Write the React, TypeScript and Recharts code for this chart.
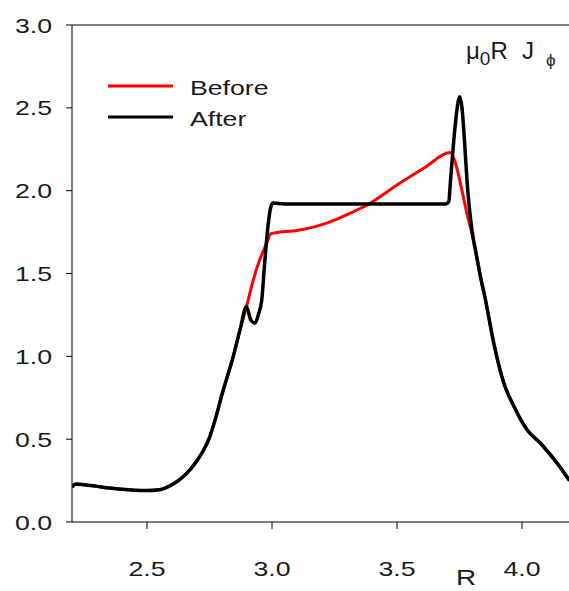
import React from 'react';
import { LineChart, Line, XAxis, YAxis, ReferenceLine, Legend } from 'recharts';

// shared profile (both runs agree here)
const baseR = [2.2, 2.215, 2.25, 2.3, 2.35, 2.4, 2.45, 2.5, 2.55, 2.6, 2.65, 2.7, 2.725, 2.75, 2.775, 2.8, 2.845, 2.872, 2.898];
const baseJ = [0.21, 0.23, 0.225, 0.215, 0.205, 0.197, 0.192, 0.19, 0.195, 0.225, 0.28, 0.37, 0.43, 0.51, 0.63, 0.77, 1.0, 1.16, 1.3];

// "Before" between divergence and rejoin
const beforeR = [2.925, 2.95, 2.978, 2.995, 3.03, 3.1, 3.165, 3.23, 3.3, 3.393, 3.5, 3.607, 3.714, 3.734, 3.76, 3.78, 3.795];
const beforeJ = [1.46, 1.58, 1.68, 1.74, 1.75, 1.76, 1.78, 1.81, 1.855, 1.924, 2.034, 2.135, 2.23, 2.165, 2.0, 1.86, 1.77];

// "After" between divergence and rejoin
const afterR = [2.915, 2.932, 2.945, 2.959, 2.97, 2.985, 2.995, 3.005, 3.05, 3.2, 3.4, 3.6, 3.694, 3.707, 3.714, 3.73, 3.745, 3.751, 3.76, 3.77, 3.78, 3.8];
const afterJ = [1.22, 1.2, 1.25, 1.34, 1.55, 1.8, 1.9, 1.925, 1.92, 1.92, 1.92, 1.92, 1.919, 1.933, 2.06, 2.35, 2.54, 2.567, 2.5, 2.3, 2.06, 1.76];

// common tail
const tailR = [3.814, 3.834, 3.854, 3.887, 3.927, 3.967, 4.021, 4.074, 4.141, 4.19];
const tailJ = [1.64, 1.48, 1.34, 1.08, 0.84, 0.7, 0.555, 0.475, 0.354, 0.25];

const seriesNames = ['Before', 'After'];
const xTicks = [2.5, 3.0, 3.5, 4.0];
const yTicks = [0, 0.5, 1.0, 1.5, 2.0, 2.5, 3.0];

const toPoints = (rs: number[], js: number[]) => rs.map((r, i) => ({ r, j: js[i] }));
const beforeData = [...toPoints(baseR, baseJ), ...toPoints(beforeR, beforeJ), ...toPoints(tailR, tailJ)];
const afterData = [...toPoints(baseR, baseJ), ...toPoints(afterR, afterJ), ...toPoints(tailR, tailJ)];

const FONT = '"Liberation Sans", Arial, sans-serif';
const INK = '#1a1a1a';
const STRETCH = 'scale(1.27,1)';

const YTick = ({ x, y, payload }: any) => (
  <g transform={`translate(${x},${y})`}>
    <text transform={STRETCH} textAnchor="end" dy="0.36em" fontSize={21} fontFamily={FONT} fill={INK}>
      {Number(payload.value).toFixed(1)}
    </text>
  </g>
);

const XTick = ({ x, y, payload }: any) => (
  <g transform={`translate(${x},${y})`}>
    <text transform={STRETCH} textAnchor="middle" dy="0.71em" fontSize={21} fontFamily={FONT} fill={INK}>
      {Number(payload.value).toFixed(1)}
    </text>
  </g>
);

const LegendBox = ({ payload }: any) => {
  const items = [...(payload || [])].sort(
    (a: any, b: any) => seriesNames.indexOf(a.value) - seriesNames.indexOf(b.value)
  );
  return (
    <svg width={200} height={64} style={{ display: 'block' }}>
      {items.map((p: any, i: number) => (
        <g key={p.value} transform={`translate(0,${16 + i * 31})`}>
          <line x1={0} x2={65} y1={0} y2={0} stroke={p.color} strokeWidth={3} />
          <g transform="translate(82,9)">
            <text transform={STRETCH} fontSize={21} fontFamily={FONT} fill={INK}>
              {p.value}
            </text>
          </g>
        </g>
      ))}
    </svg>
  );
};

export default function App() {
  return (
    <div style={{ position: 'absolute', left: 0, top: 0, width: 569, height: 591, overflow: 'hidden', background: '#fff' }}>
      <LineChart width={572} height={591} margin={{ top: 25, right: 0, bottom: 0, left: 0 }}>
        <XAxis
          type="number"
          dataKey="r"
          domain={[2.2, 4.2]}
          ticks={xTicks}
          allowDataOverflow
          height={69}
          tickSize={7}
          tickMargin={32}
          tick={<XTick />}
          stroke="#000"
        />
        <YAxis
          type="number"
          domain={[0, 3]}
          ticks={yTicks}
          allowDataOverflow
          width={72}
          tickSize={6}
          tickMargin={14}
          tick={<YTick />}
          stroke="#000"
        />
        <ReferenceLine y={3} stroke="#555" strokeWidth={1.5} />
        <Legend
          layout="vertical"
          align="center"
          verticalAlign="middle"
          content={<LegendBox />}
          wrapperStyle={{ left: 108, top: 70, width: 200, height: 64 }}
        />
        <Line
          name={seriesNames[0]}
          data={beforeData}
          dataKey="j"
          type="monotone"
          stroke="#ff0000"
          strokeWidth={3}
          dot={false}
          isAnimationActive={false}
        />
        <Line
          name={seriesNames[1]}
          data={afterData}
          dataKey="j"
          type="monotone"
          stroke="#000"
          strokeWidth={3.5}
          dot={false}
          isAnimationActive={false}
        />
      </LineChart>
      <svg width={569} height={591} style={{ position: 'absolute', left: 0, top: 0, pointerEvents: 'none' }}>
        <text y={59} fontSize={24} fontFamily={FONT} fill={INK}>
          <tspan x={466}>μ</tspan>
          <tspan dy={6} fontSize={19}>0</tspan>
          <tspan dy={-6}>R</tspan>
          <tspan x={522}>J</tspan>
          <tspan x={546} dy={7} fontSize={17}>ϕ</tspan>
        </text>
        <g transform="translate(456,585)">
          <text transform={STRETCH} fontSize={22} fontFamily={FONT} fill={INK}>R</text>
        </g>
      </svg>
    </div>
  );
}
